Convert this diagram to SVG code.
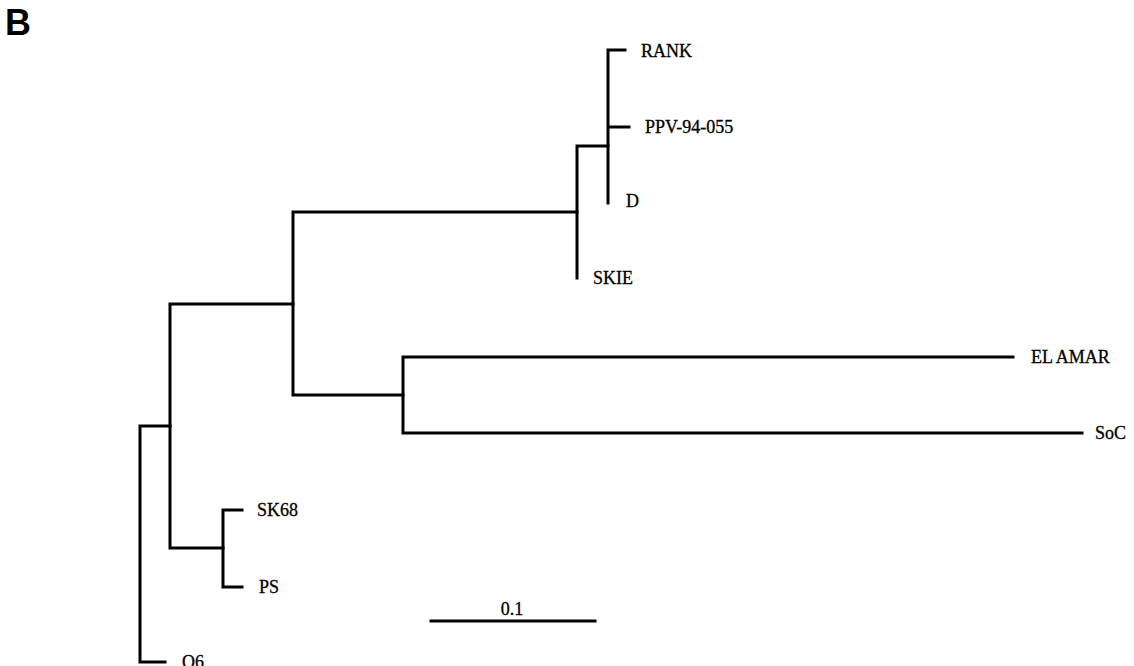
<svg xmlns="http://www.w3.org/2000/svg" width="1134" height="666" viewBox="0 0 1134 666">
<style>
.br{fill:none;stroke:#000;stroke-width:3;stroke-linecap:square;stroke-linejoin:miter}
.lb{font-family:"Liberation Serif","Times New Roman",serif;font-size:18px;fill:#000;stroke:#000;stroke-width:0.3}
.pl{font-family:"Liberation Sans",Arial,sans-serif;font-size:36px;font-weight:bold;fill:#000}
</style>
<rect width="1134" height="666" fill="#fff"/>
<text class="pl" x="5" y="35">B</text>
<g id="connectors">
<path class="br" d="M608,50 H625 M608,50 V203 M608,127 H629"/>
<path class="br" d="M577,146 H608 M577,146 V278"/>
<path class="br" d="M293,212 H577 M293,212 V395 M293,395 H403"/>
<path class="br" d="M403,357 V433 M403,357 H1013 M403,433 H1082"/>
<path class="br" d="M170,304 H293 M170,304 V548 M170,548 H223"/>
<path class="br" d="M223,510 V587 M223,510 H242 M223,587 H242"/>
<path class="br" d="M140,426 H170 M140,426 V662 H165"/>
</g>
<g id="RANK"><text class="lb" x="641" y="57">RANK</text></g>
<g id="PPV-94-055"><text class="lb" x="645" y="133">PPV-94-055</text></g>
<g id="D"><text class="lb" x="626" y="207">D</text></g>
<g id="SKIE"><text class="lb" x="593" y="284">SKIE</text></g>
<g id="EL_AMAR"><text class="lb" x="1031" y="363">EL AMAR</text></g>
<g id="SoC"><text class="lb" x="1095" y="439">SoC</text></g>
<g id="SK68"><text class="lb" x="257" y="516">SK68</text></g>
<g id="PS"><text class="lb" x="259" y="593">PS</text></g>
<g id="Q6"><text class="lb" x="182" y="668">Q6</text></g>
<g id="scale">
<line class="br" x1="431" y1="621" x2="595" y2="621"/>
<text class="lb" x="512" y="615" text-anchor="middle">0.1</text>
</g>
</svg>
